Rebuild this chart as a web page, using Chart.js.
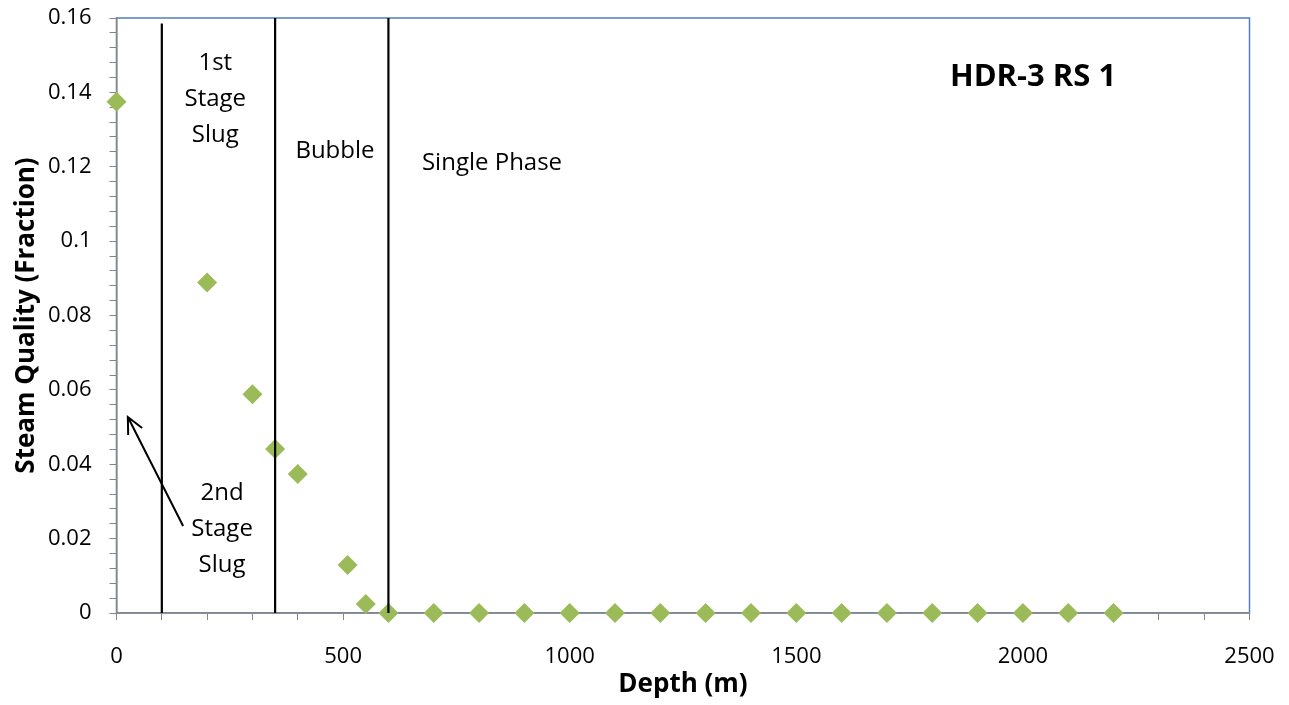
<!DOCTYPE html>
<html>
<head>
<meta charset="utf-8">
<script src="https://cdn.jsdelivr.net/npm/chart.js@4.4.1/dist/chart.umd.min.js"></script>
<style>
  html, body { margin: 0; padding: 0; background: #fff; }
  canvas { display: block; }
</style>
</head>
<body>
<canvas id="quality" width="1289" height="705"></canvas>
<script>
// Measured steam quality along the well
const depth = [0, 200, 300, 350, 400, 510, 550, 600, 700, 800, 900, 1000, 1100, 1200,
               1300, 1400, 1500, 1600, 1700, 1800, 1900, 2000, 2100, 2200];
const steamQuality = [0.1375, 0.0889, 0.0588, 0.0441, 0.0374, 0.0129, 0.0024, 0, 0, 0, 0, 0, 0, 0,
                      0, 0, 0, 0, 0, 0, 0, 0, 0, 0];

// Flow regime boundaries (depth) and how high each line reaches
const regimeBounds = [100, 350, 600];
const regimeTops = [0.1585, 0.16, 0.16];

// Axis tick labels
const xTickLabels = [0, 500, 1000, 1500, 2000, 2500];
const yTickLabels = [0, 0.02, 0.04, 0.06, 0.08, 0.1, 0.12, 0.14, 0.16];

const FONT = "'Open Sans', sans-serif";
const AXIS_GREY = '#868686';

// text labels placed in data units
const notes = [
  { lines: ['1st', 'Stage', 'Slug'], x: 218, y: 0.1382, align: 'center' },
  { lines: ['Bubble'], x: 482, y: 0.1242, align: 'center' },
  { lines: ['Single Phase'], x: 674, y: 0.121, align: 'left' },
  { lines: ['2nd', 'Stage', 'Slug'], x: 233, y: 0.0226, align: 'center' }
];
const arrow = { from: [147, 0.0234], to: [25, 0.0527] };

const isMajor = (v, list) => list.some(t => Math.abs(t - v) < 1e-7);

const frame = {
  id: 'frame',
  beforeDraw(chart) {
    const {ctx, chartArea: a} = chart;
    ctx.save();
    ctx.strokeStyle = '#4F81BD';
    ctx.lineWidth = 1.5;
    ctx.strokeRect(a.left, a.top, a.right - a.left, a.bottom - a.top);
    ctx.restore();
  }
};

const annotations = {
  id: 'annotations',
  afterDraw(chart) {
    const {ctx} = chart;
    const xs = chart.scales.x, ys = chart.scales.y;
    ctx.save();
    ctx.fillStyle = '#000';
    ctx.textBaseline = 'middle';
    ctx.font = '24px ' + FONT;
    notes.forEach(n => {
      const px = xs.getPixelForValue(n.x);
      const py = ys.getPixelForValue(n.y);
      const lh = 36;
      const start = py - (n.lines.length - 1) * lh / 2;
      ctx.textAlign = n.align;
      n.lines.forEach((t, i) => ctx.fillText(t, px, start + i * lh));
    });

    // title box
    ctx.font = 'bold 31px ' + FONT;
    ctx.textAlign = 'left';
    ctx.fillText('HDR-3 RS 1', xs.getPixelForValue(1839), ys.getPixelForValue(0.1441));

    // arrow
    const x1 = xs.getPixelForValue(arrow.from[0]), y1 = ys.getPixelForValue(arrow.from[1]);
    const x2 = xs.getPixelForValue(arrow.to[0]), y2 = ys.getPixelForValue(arrow.to[1]);
    const ang = Math.atan2(y2 - y1, x2 - x1);
    const head = 18, spread = 0.45;
    ctx.strokeStyle = '#000';
    ctx.lineWidth = 2;
    ctx.beginPath();
    ctx.moveTo(x1, y1);
    ctx.lineTo(x2, y2);
    ctx.moveTo(x2 - head * Math.cos(ang - spread), y2 - head * Math.sin(ang - spread));
    ctx.lineTo(x2, y2);
    ctx.lineTo(x2 - head * Math.cos(ang + spread), y2 - head * Math.sin(ang + spread));
    ctx.stroke();
    ctx.restore();
  }
};

const regimeSets = regimeBounds.map((b, i) => ({
  data: [{x: b, y: 0}, {x: b, y: regimeTops[i]}],
  showLine: true,
  borderColor: '#000',
  borderWidth: 2.2,
  pointRadius: 0,
  clip: false
}));

new Chart(document.getElementById('quality'), {
  type: 'scatter',
  data: {
    datasets: [
      ...regimeSets,
      {
        data: depth.map((d, i) => ({x: d, y: steamQuality[i]})),
        pointStyle: 'rectRot',
        pointRadius: 10,
        pointBackgroundColor: '#9BBB59',
        pointBorderColor: '#9BBB59',
        pointBorderWidth: 0,
        showLine: false,
        clip: false
      }
    ]
  },
  options: {
    responsive: false,
    animation: false,
    events: [],
    layout: { padding: { top: 18, right: 39.5, left: 0, bottom: 0 } },
    plugins: { legend: { display: false }, tooltip: { enabled: false } },
    scales: {
      x: {
        type: 'linear',
        min: 0,
        max: 2500,
        afterFit(s) { s.height = 92; s.paddingLeft = 0; s.paddingRight = 0; },
        ticks: {
          stepSize: 100,
          autoSkip: false,
          maxRotation: 0,
          padding: 24,
          color: '#000',
          font: { family: FONT, size: 22 },
          callback: v => isMajor(v, xTickLabels) ? String(v) : ''
        },
        grid: { drawOnChartArea: false, drawTicks: true, tickLength: 7, color: AXIS_GREY },
        border: { color: AXIS_GREY, width: 1.5 },
        title: {
          display: true,
          text: 'Depth (m)',
          color: '#000',
          font: { family: FONT, size: 26, weight: 'bold' },
          padding: { top: 0, bottom: 5 }
        }
      },
      y: {
        min: 0,
        max: 0.16,
        afterFit(s) { s.width = 116.5; s.paddingTop = 0; s.paddingBottom = 0; },
        ticks: {
          stepSize: 0.004,
          autoSkip: false,
          padding: 18,
          color: '#000',
          font: { family: FONT, size: 22 },
          callback: v => isMajor(v, yTickLabels) ? String(parseFloat(v.toFixed(3))) : ''
        },
        grid: { drawOnChartArea: false, drawTicks: true, tickLength: 7, color: AXIS_GREY },
        border: { color: AXIS_GREY, width: 1.5 },
        title: {
          display: true,
          text: 'Steam Quality (Fraction)',
          color: '#000',
          font: { family: FONT, size: 26, weight: 'bold' },
          padding: { top: 11, bottom: 0 }
        }
      }
    }
  },
  plugins: [frame, annotations]
});
</script>
</body>
</html>
